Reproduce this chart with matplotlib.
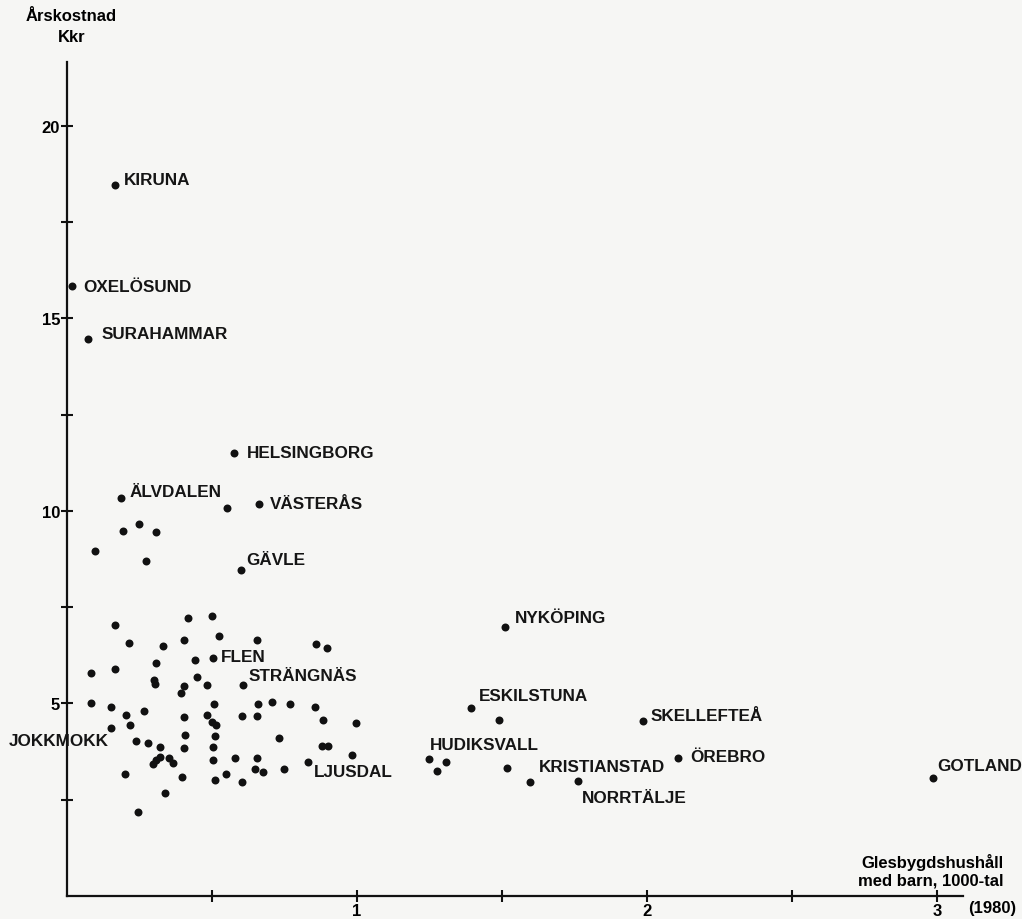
# Årskostnad per glesbygdshushåll med barn, kommuner 1980 (scatter with named municipalities)

import matplotlib.pyplot as plt

plt.rcParams['font.family'] = ['Liberation Sans', 'DejaVu Sans']
plt.rcParams['font.weight'] = 'bold'

# labelled municipalities: name, x (1000-tal hushåll), y (Kkr)
names = ['KIRUNA', 'OXELÖSUND', 'SURAHAMMAR', 'HELSINGBORG', 'ÄLVDALEN',
         'VÄSTERÅS', 'GÄVLE', 'NYKÖPING', 'FLEN', 'STRÄNGNÄS', 'ESKILSTUNA',
         'SKELLEFTEÅ', 'JOKKMOKK', 'HUDIKSVALL', 'LJUSDAL', 'KRISTIANSTAD',
         'NORRTÄLJE', 'ÖREBRO', 'GOTLAND']
named_x = [0.167, 0.018, 0.071, 0.577, 0.187, 0.662, 0.600, 1.511, 0.502, 0.606,
           1.392, 1.987, 0.152, 1.247, 0.832, 1.518, 1.762, 2.106, 2.987]
named_y = [18.47, 15.83, 14.46, 11.51, 10.33, 10.19, 8.46, 6.99, 6.19, 5.48,
           4.88, 4.54, 4.36, 3.55, 3.49, 3.32, 2.99, 3.58, 3.06]

# other municipalities (unnamed dots)
other_x = [0.552, 0.194, 0.247, 0.307, 0.097, 0.271, 0.167, 0.418, 0.501, 0.214,
           0.332, 0.404, 0.524, 0.654, 0.857, 0.898, 0.084, 0.166, 0.307, 0.441,
           0.301, 0.303, 0.448, 0.403, 0.392, 0.482, 0.082, 0.153, 0.202, 0.266,
           0.508, 0.660, 0.706, 0.768, 0.856, 0.216, 0.402, 0.482, 0.501, 0.513,
           0.604, 0.654, 0.883, 0.998, 0.237, 0.278, 0.320, 0.407, 0.510, 0.731,
           0.402, 0.502, 0.879, 0.900, 0.295, 0.307, 0.319, 0.350, 0.367, 0.504,
           0.580, 0.654, 0.984, 0.199, 0.398, 0.510, 0.549, 0.605, 0.649, 0.677,
           0.747, 0.338, 0.244, 1.491, 1.306, 1.275, 1.598]
other_y = [10.09, 9.47, 9.67, 9.46, 8.95, 8.71, 7.03, 7.23, 7.27, 6.58,
           6.48, 6.66, 6.74, 6.64, 6.54, 6.43, 5.78, 5.90, 6.06, 6.12,
           5.62, 5.50, 5.70, 5.45, 5.27, 5.49, 5.01, 4.90, 4.70, 4.80,
           4.99, 4.98, 5.05, 4.99, 4.92, 4.45, 4.64, 4.70, 4.51, 4.43,
           4.68, 4.67, 4.57, 4.49, 4.02, 3.97, 3.86, 4.18, 4.16, 4.10,
           3.84, 3.87, 3.89, 3.89, 3.42, 3.52, 3.62, 3.58, 3.45, 3.54,
           3.58, 3.59, 3.67, 3.16, 3.10, 3.02, 3.17, 2.95, 3.29, 3.21,
           3.30, 2.68, 2.17, 4.57, 3.49, 3.25, 2.96]

# label offsets from the dot, in points (dx, dy, horizontal alignment)
offsets = {
    'KIRUNA': (6, 4, 'left'), 'OXELÖSUND': (8, 0, 'left'),
    'SURAHAMMAR': (10, 4, 'left'), 'HELSINGBORG': (9, 0, 'left'),
    'ÄLVDALEN': (6, 5, 'left'), 'VÄSTERÅS': (8, 0, 'left'),
    'GÄVLE': (4, 8, 'left'), 'NYKÖPING': (7, 7, 'left'),
    'FLEN': (6, 1, 'left'), 'STRÄNGNÄS': (4, 7, 'left'),
    'ESKILSTUNA': (6, 9, 'left'), 'SKELLEFTEÅ': (5, 4, 'left'),
    'JOKKMOKK': (-2, -9, 'right'), 'HUDIKSVALL': (1, 11, 'left'),
    'LJUSDAL': (4, -7, 'left'), 'KRISTIANSTAD': (23, 1, 'left'),
    'NORRTÄLJE': (3, -12, 'left'), 'ÖREBRO': (9, 1, 'left'),
    'GOTLAND': (3, 9, 'left'),
}

fig = plt.figure(figsize=(10.22, 9.2), dpi=100, facecolor='#f6f6f4')
ax = fig.add_axes([0.0656, 0.025, 0.8767, 0.9065])
ax.set_facecolor('none')

ax.scatter(other_x, other_y, s=33, color='#111111', linewidths=0, clip_on=False)
ax.scatter(named_x, named_y, s=33, color='#111111', linewidths=0, clip_on=False)

for n, xv, yv in zip(names, named_x, named_y):
    dx, dy, ha = offsets[n]
    ax.annotate(n, (xv, yv), xytext=(dx, dy), textcoords='offset points',
                ha=ha, va='center', fontsize=12.3, fontweight='bold',
                color='#151515')

ax.set_xlim(0, 3.09)
ax.set_ylim(0, 21.66)
for s in ['top', 'right']:
    ax.spines[s].set_visible(False)
for s in ['left', 'bottom']:
    ax.spines[s].set_linewidth(1.6)
    ax.spines[s].set_color('#111111')

xt = [0.5, 1, 1.5, 2, 2.5, 3]
yt = [2.5, 5, 7.5, 10, 12.5, 15, 17.5, 20]
ax.set_xticks(xt)
ax.set_xticklabels(['' if v % 1 else str(int(v)) for v in xt])
ax.set_yticks(yt)
ax.set_yticklabels(['' if v % 5 else str(int(v)) for v in yt])
ax.tick_params(direction='inout', length=8, width=1.5, color='#111111',
               labelsize=12, pad=1)
for lab in ax.get_xticklabels() + ax.get_yticklabels():
    lab.set_fontweight('bold')

ax.text(0.005, 1.043, 'Årskostnad\nKkr', transform=ax.transAxes, ha='center',
        va='center', fontsize=12, fontweight='bold', linespacing=1.55)
fig.text(0.982, 0.053, 'Glesbygdshushåll\nmed barn, 1000-tal', ha='right',
         va='center', fontsize=12, fontweight='bold', linespacing=1.25)
fig.text(0.947, 0.013, '(1980)', ha='left', va='center', fontsize=12,
         fontweight='bold')

fig.savefig('out.png', dpi=100, facecolor=fig.get_facecolor())
